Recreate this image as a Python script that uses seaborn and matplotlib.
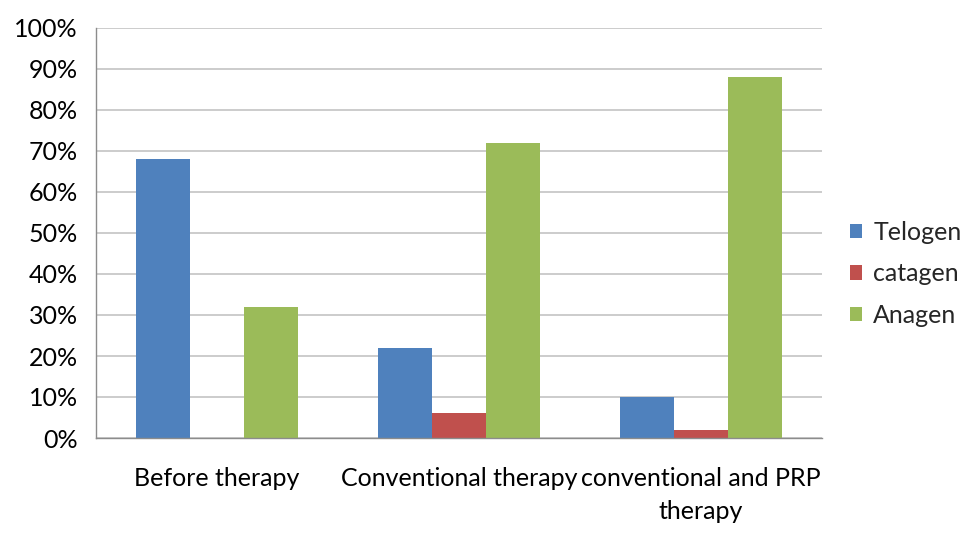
import matplotlib
matplotlib.use("Agg")
import matplotlib.pyplot as plt
from matplotlib.ticker import PercentFormatter, FixedLocator
import seaborn as sns
import pandas as pd

categories = ["Before therapy", "Conventional therapy", "conventional and PRP\ntherapy"]
series = ["Telogen", "catagen", "Anagen"]
telogen = [68, 22, 10]
catagen = [0, 6, 2]
anagen = [32, 72, 88]
colors = ["#4F81BD", "#C0504D", "#9BBB59"]

rows = []
for cat, t, c, a in zip(categories, telogen, catagen, anagen):
    rows += [(cat, "Telogen", t), (cat, "catagen", c), (cat, "Anagen", a)]
df = pd.DataFrame(rows, columns=["stage", "phase", "pct"])

sns.set_style("white")
plt.rcParams["font.family"] = ["Lato", "DejaVu Sans"]

fig = plt.figure(figsize=(9.67, 5.33), dpi=100)
ax = fig.add_axes([96 / 967, 1 - 438 / 533, (822 - 96) / 967, (438 - 28) / 533])

sns.barplot(data=df, x="stage", y="pct", hue="phase", hue_order=series,
            order=categories, palette=colors, width=0.667, gap=0,
            saturation=1, ax=ax, errorbar=None, edgecolor="none", linewidth=0)

ax.set_ylim(0, 100)
ax.set_xlim(-0.5, 2.5)
ax.set_yticks(range(0, 101, 10))
ax.yaxis.set_major_formatter(PercentFormatter(decimals=0))
ax.yaxis.grid(True, color="#BFBFBF", linewidth=1.1)
ax.set_axisbelow(True)
ax.set_xlabel("")
ax.set_ylabel("")

for s in ["top", "right"]:
    ax.spines[s].set_visible(False)
for s in ["left", "bottom"]:
    ax.spines[s].set_color("#8C8C8C")
    ax.spines[s].set_linewidth(1.0)

ax.tick_params(axis="y", which="major", length=7, color="#8C8C8C", width=1.0,
               labelsize=18, pad=6, labelcolor="#000000")
ax.tick_params(axis="x", which="major", length=0, labelsize=18, pad=21,
               labelcolor="#000000")
ax.xaxis.set_minor_locator(FixedLocator([-0.5, 0.5, 1.5, 2.5]))
ax.tick_params(axis="x", which="minor", length=7, color="#8C8C8C", width=1.0)
for lab in ax.get_xticklabels():
    lab.set_linespacing(1.5)

ax.legend(loc="center left", bbox_to_anchor=(1.0, 0.4), frameon=False,
          fontsize=18, handlelength=0.5, handleheight=0.5, handletextpad=0.45,
          labelspacing=0.75, borderaxespad=0.7)

fig.savefig("out.png", dpi=100)
